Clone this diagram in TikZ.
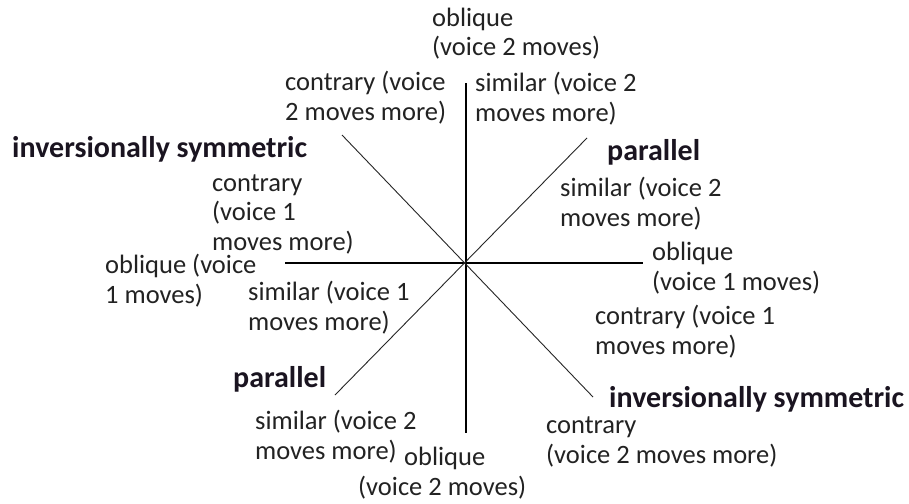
\documentclass[tikz,border=0pt]{standalone}
\usepackage{fontspec}
\setmainfont{Carlito}
\definecolor{txt}{HTML}{222222}
\definecolor{bld}{HTML}{1A1420}
\begin{document}
\begin{tikzpicture}[x=1pt,y=-1pt,
  lbl/.style={anchor=base west,inner sep=0pt,align=left,text=txt,
    font=\fontsize{26.5}{29.5}\selectfont},
  head/.style={anchor=base west,inner sep=0pt,text=bld,
    font=\fontsize{30}{32}\selectfont\bfseries},
  axis/.style={line width=1.6pt,black},
  diag/.style={line width=0.9pt,black!85}]
\useasboundingbox[fill=white] (0,0) rectangle (909,503);
% end points
\coordinate (vt) at (466,83);
\coordinate (vb) at (466,433);
\coordinate (hl) at (285,263);
\coordinate (hr) at (643,263);
\coordinate (ne) at (587,138);
\coordinate (sw) at (335,395);
\coordinate (nw) at (342,135);
\coordinate (se) at (593,397);
\draw[axis] (vt) -- (vb);
\draw[axis] (hl) -- (hr);
\draw[diag] (ne) -- (sw);
\draw[diag] (nw) -- (se);
% labels (anchored at the baseline of their last line)
\node[lbl] (t1) at (432,56) {oblique\\(voice 2 moves)};
\node[lbl] (t2) at (285,120) {contrary (voice\\2 moves more)};
\node[lbl] (t3) at (475,121) {similar (voice 2\\moves more)};
\node[head] (h1) at (12,157) {inversionally symmetric};
\node[lbl] (t4) at (212,250) {contrary\\(voice 1\\moves more)};
\node[head] (h2) at (607,160) {parallel};
\node[lbl] (t5) at (560,226) {similar (voice 2\\moves more)};
\node[lbl] (t6) at (652,290) {oblique\\(voice 1 moves)};
\node[lbl] (t7) at (595,354) {contrary (voice 1\\moves more)};
\node[head] (h3) at (609,407) {inversionally symmetric};
\node[lbl] (t8) at (546,463) {contrary\\(voice 2 moves more)};
\node[lbl] (t9) at (358,495) {\hspace*{46pt}oblique\\(voice 2 moves)};
\node[lbl] (t10) at (105,303) {oblique (voice\\1 moves)};
\node[lbl] (t11) at (248,330) {similar (voice 1\\moves more)};
\node[head] (h4) at (233,387) {parallel};
\node[lbl] (t12) at (255,459) {similar (voice 2\\moves more)};
\end{tikzpicture}
\end{document}
